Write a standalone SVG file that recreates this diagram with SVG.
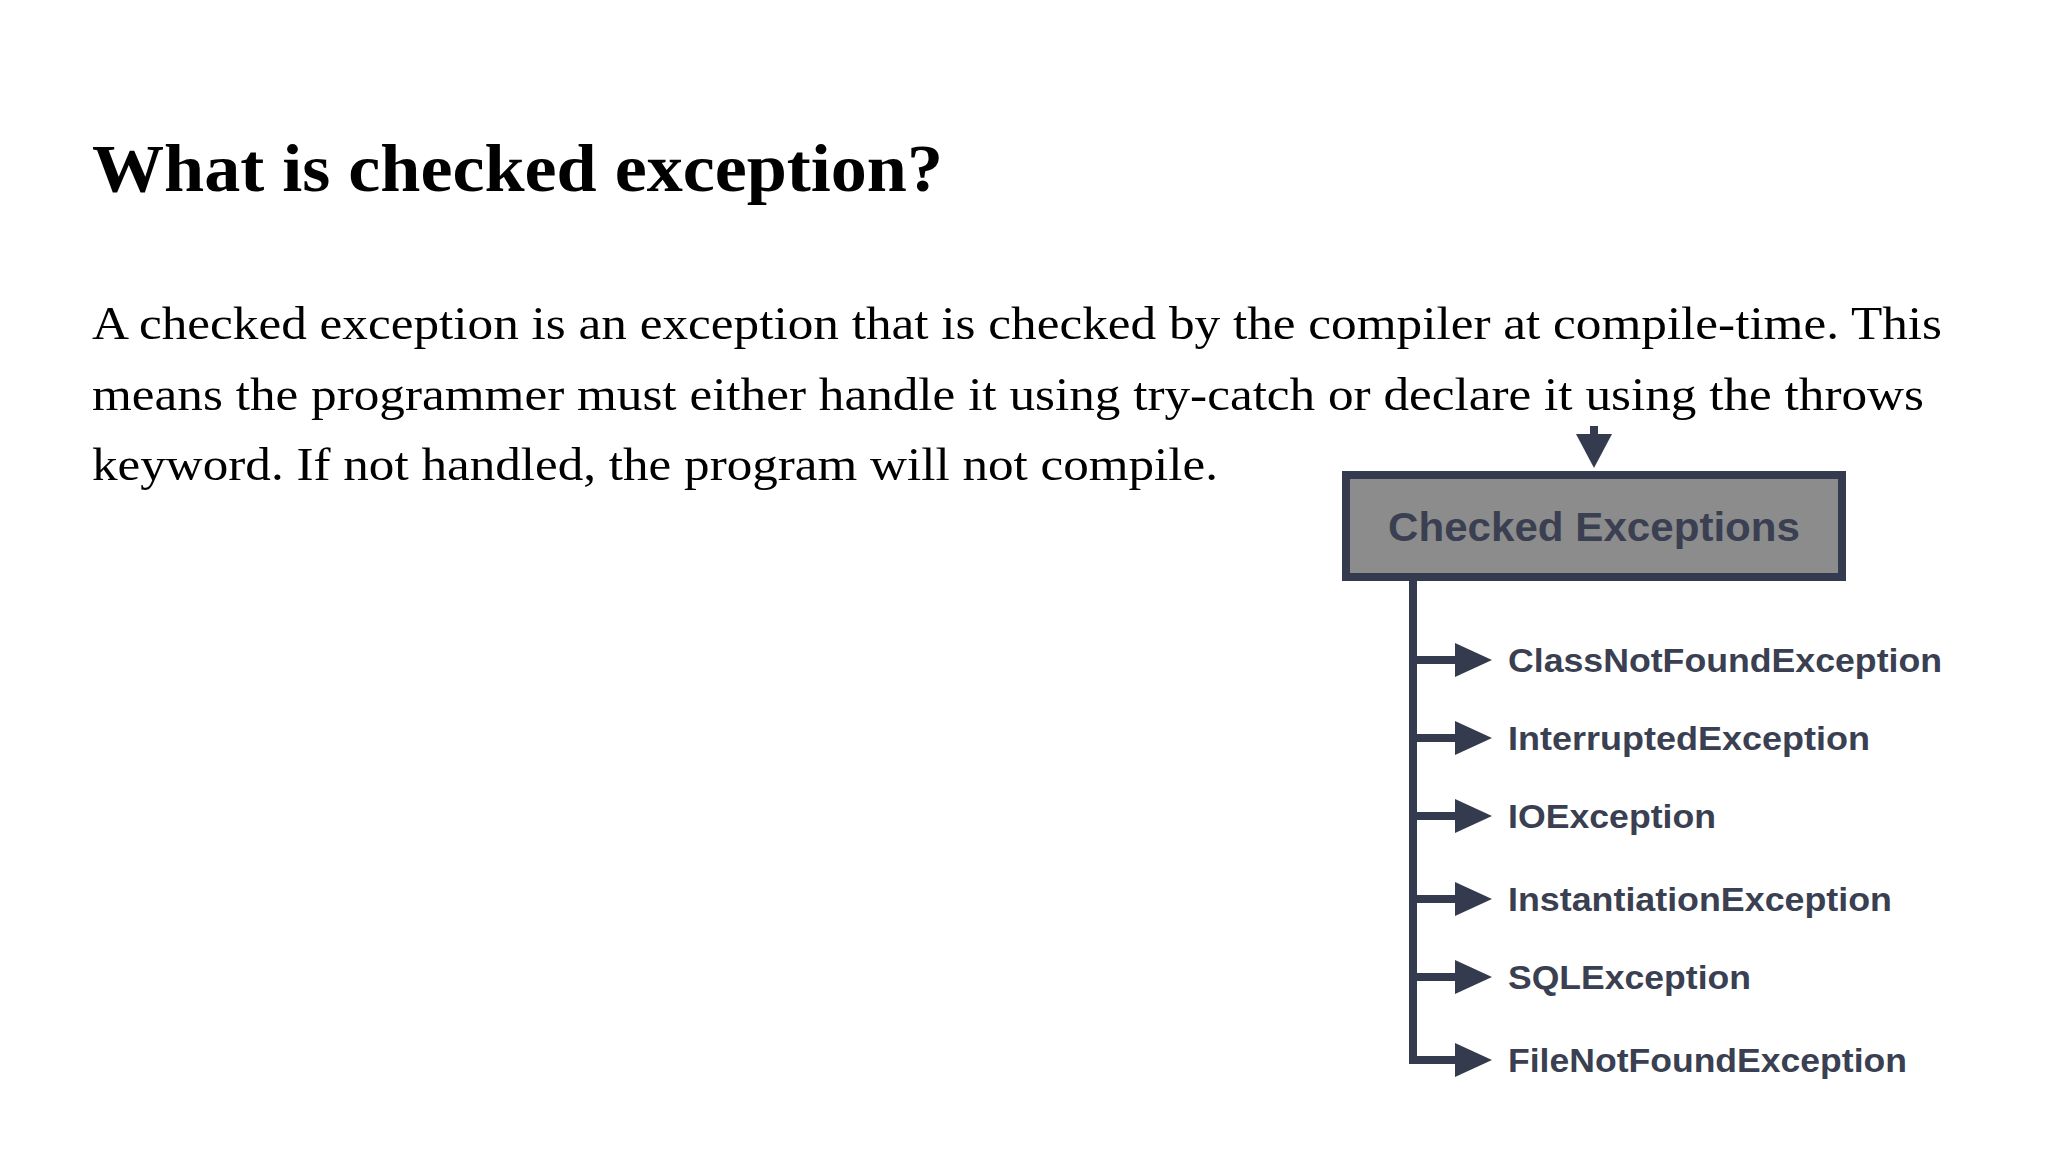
<svg xmlns="http://www.w3.org/2000/svg" width="2048" height="1152" viewBox="0 0 2048 1152">
<style>
.h{font-family:"Liberation Serif",serif;font-weight:bold;font-size:68px;fill:#000}
.p{font-family:"Liberation Serif",serif;font-size:46px;fill:#000}
.l{font-family:"Liberation Sans",Arial,sans-serif;font-weight:bold;font-size:33px;fill:#3a3f52}
.c{stroke:#353b4e;stroke-width:8;fill:none}
.a{fill:#353b4e}
</style>
<rect width="2048" height="1152" fill="#fff"/>
<text class="h" x="92" y="191" textLength="851" lengthAdjust="spacingAndGlyphs">What is checked exception?</text>
<text class="p" x="92" y="339" textLength="1850" lengthAdjust="spacingAndGlyphs">A checked exception is an exception that is checked by the compiler at compile-time. This</text>
<text class="p" x="92" y="410" textLength="1832" lengthAdjust="spacingAndGlyphs">means the programmer must either handle it using try-catch or declare it using the throws</text>
<text class="p" x="92" y="480" textLength="1126" lengthAdjust="spacingAndGlyphs">keyword. If not handled, the program will not compile.</text>
<g id="connectors">
<line class="c" x1="1594" y1="426" x2="1594" y2="440"/>
<polygon class="a" points="1576,434 1612,434 1594,468"/>
<path class="c" d="M1413,581 V1060 H1460"/>
<line class="c" x1="1413" y1="660" x2="1460" y2="660"/><polygon class="a" points="1455,643 1492,660 1455,677"/>
<line class="c" x1="1413" y1="738" x2="1460" y2="738"/><polygon class="a" points="1455,721 1492,738 1455,755"/>
<line class="c" x1="1413" y1="816" x2="1460" y2="816"/><polygon class="a" points="1455,799 1492,816 1455,833"/>
<line class="c" x1="1413" y1="899" x2="1460" y2="899"/><polygon class="a" points="1455,882 1492,899 1455,916"/>
<line class="c" x1="1413" y1="977" x2="1460" y2="977"/><polygon class="a" points="1455,960 1492,977 1455,994"/>
<polygon class="a" points="1455,1043 1492,1060 1455,1077"/>
</g>
<g id="checked">
<rect x="1346" y="475" width="496" height="102" fill="#8c8c8c" stroke="#353b4e" stroke-width="8"/>
<text class="l" x="1594" y="541" text-anchor="middle" style="font-size:40px" textLength="412" lengthAdjust="spacingAndGlyphs">Checked Exceptions</text>
</g>
<g id="n1"><text class="l" x="1508" y="672" textLength="434" lengthAdjust="spacingAndGlyphs">ClassNotFoundException</text></g>
<g id="n2"><text class="l" x="1508" y="750" textLength="362" lengthAdjust="spacingAndGlyphs">InterruptedException</text></g>
<g id="n3"><text class="l" x="1508" y="828" textLength="208" lengthAdjust="spacingAndGlyphs">IOException</text></g>
<g id="n4"><text class="l" x="1508" y="911" textLength="384" lengthAdjust="spacingAndGlyphs">InstantiationException</text></g>
<g id="n5"><text class="l" x="1508" y="989" textLength="243" lengthAdjust="spacingAndGlyphs">SQLException</text></g>
<g id="n6"><text class="l" x="1508" y="1072" textLength="399" lengthAdjust="spacingAndGlyphs">FileNotFoundException</text></g>
</svg>
